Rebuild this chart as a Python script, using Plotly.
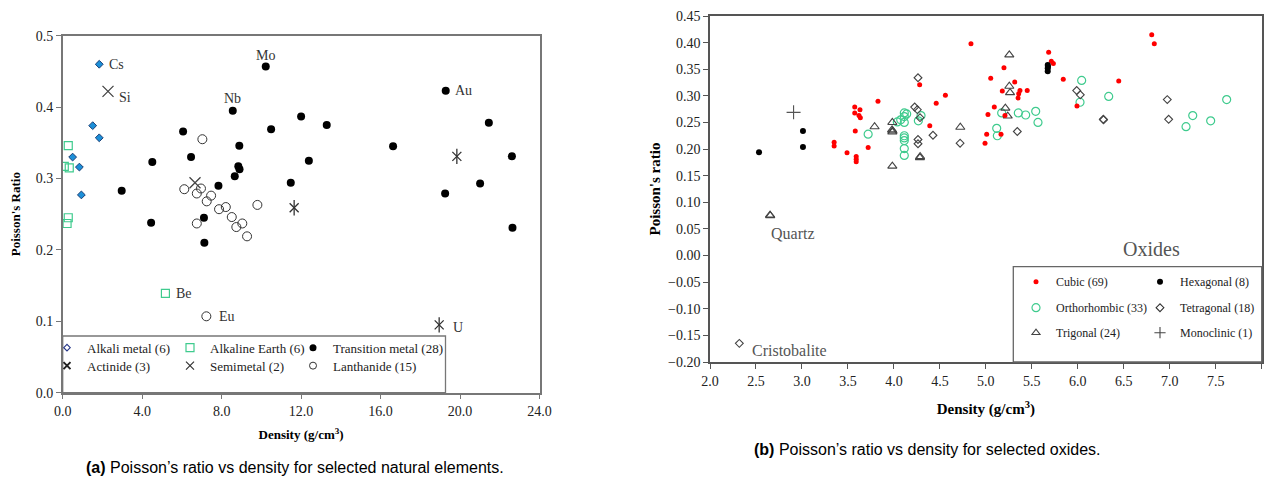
import plotly.graph_objects as go

# ---------------- (a) natural elements ----------------
alkali_x = [1.84, 1.51, 1.84, 0.50, 0.84, 0.94]
alkali_y = [0.460, 0.374, 0.357, 0.330, 0.316, 0.277]
alkaline_x = [0.28, 0.08, 0.33, 0.28, 0.22, 5.17]
alkaline_y = [0.346, 0.317, 0.315, 0.245, 0.237, 0.139]
transition_x = [2.97, 4.51, 6.06, 6.46, 7.84, 8.56, 8.89, 8.84, 8.90, 8.66, 10.22, 10.49, 12.00,
                11.48, 13.29, 12.39, 16.63, 19.28, 21.45, 22.61, 21.01, 19.25, 22.64, 4.45, 7.11, 7.13]
transition_y = [0.283, 0.323, 0.366, 0.330, 0.290, 0.395, 0.346, 0.317, 0.313, 0.303, 0.457, 0.369, 0.387,
                0.294, 0.375, 0.325, 0.345, 0.423, 0.378, 0.331, 0.293, 0.279, 0.231, 0.238, 0.245, 0.210]
actinide_x = [11.65, 19.84, 18.95]
actinide_y = [0.259, 0.331, 0.095]
semimetal_x = [2.28, 6.66]
semimetal_y = [0.422, 0.294]
lanthanide_x = [7.03, 6.12, 6.96, 6.75, 7.47, 7.25, 7.87, 8.21, 8.51, 9.04, 8.74, 9.28, 9.80, 6.75, 7.23]
lanthanide_y = [0.355, 0.285, 0.286, 0.279, 0.276, 0.268, 0.257, 0.260, 0.246, 0.237, 0.232, 0.219, 0.263,
                0.237, 0.107]
legend_a = ["Alkali metal (6)", "Alkaline Earth (6)", "Transition metal (28)",
            "Actinide (3)", "Semimetal (2)", "Lanthanide (15)"]
x_ticks_a = [0, 4, 8, 12, 16, 20, 24]
y_ticks_a = [0.0, 0.1, 0.2, 0.3, 0.4, 0.5]

# ---------------- (b) oxides ----------------
cubic_x = [3.574, 3.631, 3.574, 3.62, 3.635, 3.827, 3.58, 3.35, 3.35, 3.49, 3.59, 3.59, 3.59, 3.72, 4.28,
           4.46, 4.56, 4.39, 4.838, 5.197, 5.053, 5.314, 5.179, 5.371, 5.45, 5.357, 5.35, 5.092, 5.023,
           5.208, 5.009, 5.165, 4.991, 5.683, 5.712, 5.734, 5.842, 5.991, 6.445, 6.804, 6.832]
cubic_y = [0.279, 0.274, 0.268, 0.263, 0.259, 0.290, 0.234, 0.213, 0.206, 0.193, 0.186, 0.181, 0.176, 0.203,
           0.321, 0.286, 0.301, 0.244, 0.398, 0.353, 0.333, 0.326, 0.309, 0.310, 0.310, 0.304, 0.296, 0.279,
           0.265, 0.263, 0.228, 0.228, 0.211, 0.382, 0.365, 0.361, 0.331, 0.281, 0.328, 0.415, 0.398]
hex_x = [2.533, 3.011, 3.011, 5.673, 5.673, 5.673, 5.675]
hex_y = [0.194, 0.234, 0.204, 0.358, 0.352, 0.346, 0.355]
ortho_x = [3.72, 4.037, 4.074, 4.113, 4.139, 4.113, 4.113, 4.113, 4.113, 4.113, 4.113, 4.113, 4.295, 4.266,
           5.172, 5.118, 5.125, 5.353, 5.433, 5.542, 5.567, 6.042, 6.024, 6.336, 7.25, 7.177, 7.445, 7.619]
ortho_y = [0.228, 0.251, 0.255, 0.268, 0.266, 0.261, 0.250, 0.225, 0.221, 0.216, 0.201, 0.188, 0.263, 0.253,
           0.268, 0.239, 0.225, 0.268, 0.264, 0.271, 0.250, 0.329, 0.288, 0.299, 0.263, 0.242, 0.253, 0.293]
tetra_x = [4.262, 4.226, 4.255, 4.284, 4.425, 4.262, 4.262, 4.72, 5.342, 5.988, 6.027, 6.277, 6.28, 6.973,
           6.988, 2.319]
tetra_y = [0.334, 0.279, 0.274, 0.259, 0.226, 0.218, 0.210, 0.211, 0.233, 0.310, 0.302, 0.256, 0.255, 0.293,
           0.256, -0.165]
trig_x = [3.79, 3.983, 3.983, 3.985, 3.98, 3.983, 4.283, 4.285, 4.722, 5.255, 5.255, 5.263, 5.212, 5.238,
          2.653, 2.655]
trig_y = [0.242, 0.250, 0.232, 0.234, 0.236, 0.168, 0.184, 0.186, 0.241, 0.377, 0.318, 0.306, 0.277, 0.262,
          0.076, 0.075]
mono_x = [2.909]
mono_y = [0.269]
legend_b = ["Cubic (69)", "Hexagonal (8)", "Orthorhombic (33)", "Tetragonal (18)",
            "Trigonal (24)", "Monoclinic (1)"]

SERIF = "Liberation Serif, Times New Roman, serif"
SANS = "Liberation Sans, Arial, sans-serif"
GREEN = "#3fcb8e"

fig = go.Figure()


def pts(x, y, xa, ya, **marker):
    fig.add_trace(go.Scatter(x=x, y=y, mode="markers", xaxis=xa, yaxis=ya, showlegend=False,
                             hoverinfo="x+y", marker=marker))


def leg(name, legend, width=None, **marker):
    fig.add_trace(go.Scatter(x=[None], y=[None], mode="markers", name=name, legend=legend,
                             legendwidth=width, xaxis="x", yaxis="y", marker=marker))


# ---- left chart traces
pts(lanthanide_x, lanthanide_y, "x", "y", symbol="circle-open", size=9, color="#333",
    line=dict(width=1, color="#333"))
pts(transition_x, transition_y, "x", "y", symbol="circle", size=8, color="black")
pts(alkali_x, alkali_y, "x", "y", symbol="diamond", size=6, color="#1c8fd8",
    line=dict(width=1, color="#1a3f75"))
pts(alkaline_x, alkaline_y, "x", "y", symbol="square-open", size=8, color=GREEN,
    line=dict(width=1.2, color=GREEN))
pts(semimetal_x, semimetal_y, "x", "y", symbol="x-thin-open", size=11, color="#444",
    line=dict(width=1.3, color="#444"))
pts(actinide_x, actinide_y, "x", "y", symbol="x-thin-open", size=9, color="#333",
    line=dict(width=1.3, color="#333"))
pts(actinide_x, actinide_y, "x", "y", symbol="line-ns-open", size=11, color="#333",
    line=dict(width=1.3, color="#333"))

leg(legend_a[0], "legend", symbol="diamond-open", size=5, color="#2a3a8a", line=dict(width=1.2))
leg(legend_a[1], "legend", symbol="square-open", size=8, color=GREEN, line=dict(width=1.2))
leg(legend_a[2], "legend", width=125, symbol="circle", size=7, color="black")
leg(legend_a[3], "legend2", symbol="x-thin-open", size=7, color="#222", line=dict(width=2))
leg(legend_a[4], "legend2", symbol="x-thin-open", size=8, color="#333", line=dict(width=1.2))
leg(legend_a[5], "legend2", width=110, symbol="circle-open", size=7, color="#333", line=dict(width=1))

# ---- right chart traces
pts(ortho_x, ortho_y, "x2", "y2", symbol="circle-open", size=8, color=GREEN,
    line=dict(width=1.2, color=GREEN))
pts(tetra_x, tetra_y, "x2", "y2", symbol="diamond-open", size=6, color="#444",
    line=dict(width=1.1, color="#444"))
pts(trig_x, trig_y, "x2", "y2", symbol="triangle-up-open", size=8, color="#444",
    line=dict(width=1.1, color="#444"))
pts(cubic_x, cubic_y, "x2", "y2", symbol="circle", size=5, color="#ff0000")
pts(hex_x, hex_y, "x2", "y2", symbol="circle", size=6, color="black")
pts(mono_x, mono_y, "x2", "y2", symbol="cross-thin-open", size=10, color="#555",
    line=dict(width=1.1, color="#555"))

leg(legend_b[0], "legend3", symbol="circle", size=5, color="#ff0000")
leg(legend_b[1], "legend3", width=105, symbol="circle", size=6, color="black")
leg(legend_b[2], "legend4", symbol="circle-open", size=8, color=GREEN, line=dict(width=1.2))
leg(legend_b[3], "legend4", width=105, symbol="diamond-open", size=6, color="#333", line=dict(width=1.1))
leg(legend_b[4], "legend5", symbol="triangle-up-open", size=7, color="#444", line=dict(width=1.1))
leg(legend_b[5], "legend5", width=105, symbol="cross-thin-open", size=8, color="#444", line=dict(width=1.1))

# page body adds an 8px margin around the figure; map reference pixels into figure coordinates
OFF = 8
W, H = 1275 - 2 * OFF, 485 - 2 * OFF


def px_x(p):
    return (p - OFF) / W


def px_y(p):
    return 1 - (p - OFF) / H


tickfont = dict(family=SERIF, size=14, color="#222")
titlefont_a = dict(family=SERIF, size=13, color="black", weight="bold")
titlefont_b = dict(family=SERIF, size=15, color="black", weight="bold")

axis_common = dict(showgrid=False, zeroline=False, showline=True, mirror=True, ticks="outside",
                   ticklen=5, tickwidth=1, tickfont=tickfont, automargin=False)

fig.update_layout(
    width=W, height=H, margin=dict(l=0, r=0, t=0, b=0, autoexpand=False),
    paper_bgcolor="white", plot_bgcolor="white",
    xaxis=dict(domain=[px_x(62.7), px_x(539.5)], range=[0, 24], tickvals=x_ticks_a, tickformat=".1f",
               linecolor="#777", linewidth=1.5, tickcolor="#777", anchor="y",
               title=dict(text="Density (g/cm<sup>3</sup>)", font=titlefont_a, standoff=12), **axis_common),
    yaxis=dict(domain=[px_y(392.7), px_y(35.7)], range=[0, 0.5], tickvals=y_ticks_a, tickformat=".1f",
               linecolor="#777", linewidth=1.5, tickcolor="#777", anchor="x",
               title=dict(text="Poisson's Ratio", font=titlefont_a, standoff=13), **axis_common),
    xaxis2=dict(domain=[px_x(710), px_x(1261.7)], range=[2, 8], dtick=0.5, tickformat=".1f",
                linecolor="#555", linewidth=1.5, tickcolor="#555", anchor="y2",
                title=dict(text="Density (g/cm<sup>3</sup>)", font=titlefont_b, standoff=16), **axis_common),
    yaxis2=dict(domain=[px_y(362), px_y(16)], range=[-0.2, 0.45], dtick=0.05, tickformat=".2f",
                linecolor="#555", linewidth=1.5, tickcolor="#555", anchor="x2",
                title=dict(text="Poisson's ratio", font=titlefont_b, standoff=4), **axis_common),
)

legfont = dict(family=SERIF, size=13, color="#222")
legfont_b = dict(family=SERIF, size=12, color="#222")
leg_common = dict(orientation="h", xanchor="left", yanchor="middle", bgcolor="rgba(0,0,0,0)",
                  borderwidth=0, entrywidthmode="pixels", itemclick=False,
                  itemdoubleclick=False, tracegroupgap=0)
fig.update_layout(
    legend=dict(x=px_x(47), y=px_y(347.7), entrywidth=78, font=legfont, **leg_common),
    legend2=dict(x=px_x(47), y=px_y(365.7), entrywidth=78, font=legfont, **leg_common),
    legend3=dict(x=px_x(1016), y=px_y(281.7), entrywidth=79, font=legfont_b, **leg_common),
    legend4=dict(x=px_x(1016), y=px_y(307.7), entrywidth=79, font=legfont_b, **leg_common),
    legend5=dict(x=px_x(1016), y=px_y(332.7), entrywidth=79, font=legfont_b, **leg_common),
)

# legend boxes
fig.add_shape(type="rect", xref="paper", yref="paper", x0=px_x(62.7), x1=px_x(445.5),
              y0=px_y(392.7), y1=px_y(336), line=dict(color="#777", width=1.3), layer="above")
fig.add_shape(type="rect", xref="paper", yref="paper", x0=px_x(1013.3), x1=px_x(1261.7),
              y0=px_y(362), y1=px_y(266.7), line=dict(color="#666", width=1.3), layer="above")

# point labels (a)
lab_font = dict(family=SERIF, size=14, color="#333")
labels_a = [
    ("Cs", alkali_x[0], alkali_y[0], "left", 8, 0),
    ("Si", semimetal_x[0], semimetal_y[0], "left", 9, -6),
    ("Mo", transition_x[10], transition_y[10], "center", 0, 11),
    ("Nb", transition_x[5], transition_y[5], "center", 0, 12),
    ("Au", transition_x[17], transition_y[17], "left", 7, 0),
    ("Be", alkaline_x[5], alkaline_y[5], "left", 9, 0),
    ("Eu", lanthanide_x[14], lanthanide_y[14], "left", 11, 0),
    ("U", actinide_x[2], actinide_y[2], "left", 12, -3),
]
for t, x, y, anc, dx, dy in labels_a:
    fig.add_annotation(text=t, x=x, y=y, xref="x", yref="y", xanchor=anc, yanchor="middle",
                       xshift=dx, yshift=dy, showarrow=False, font=lab_font)

# point labels (b)
lab_font_b = dict(family=SERIF, size=16, color="#555")
fig.add_annotation(text="Quartz", x=trig_x[14], y=trig_y[14], xref="x2", yref="y2", xanchor="left",
                   yanchor="middle", xshift=-1, yshift=-18, showarrow=False, font=lab_font_b)
fig.add_annotation(text="Cristobalite", x=tetra_x[15], y=tetra_y[15], xref="x2", yref="y2",
                   xanchor="left", yanchor="middle", xshift=11, yshift=-7, showarrow=False, font=lab_font_b)
fig.add_annotation(text="Oxides", x=px_x(1151), y=px_y(249.3), xref="paper", yref="paper",
                   xanchor="center", yanchor="middle", showarrow=False,
                   font=dict(family=SERIF, size=20, color="#555"))

# captions
cap_font = dict(family=SANS, size=16, color="black")
fig.add_annotation(text="<b>(a)</b> Poisson\u2019s ratio vs density for selected natural elements.",
                   x=px_x(294.5), y=px_y(467), xref="paper", yref="paper", xanchor="center",
                   yanchor="middle", showarrow=False, font=cap_font)
fig.add_annotation(text="<b>(b)</b> Poisson\u2019s ratio vs density for selected oxides.",
                   x=px_x(927.5), y=px_y(449), xref="paper", yref="paper", xanchor="center",
                   yanchor="middle", showarrow=False, font=cap_font)

fig.write_html("out.html")
